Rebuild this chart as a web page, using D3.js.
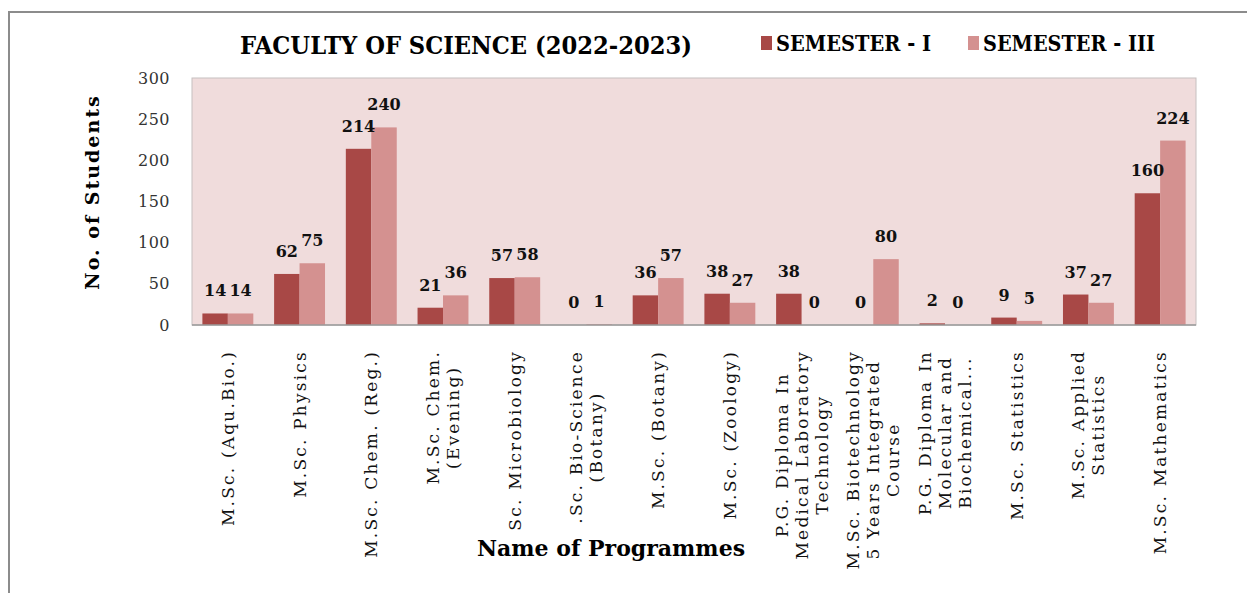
<!DOCTYPE html>
<html>
<head>
<meta charset="utf-8">
<script src="https://d3js.org/d3.v7.min.js"></script>
<style>
  body { margin: 0; background: #fff; }
  text { font-family: "DejaVu Serif", serif; }
</style>
</head>
<body>
<svg id="chart"></svg>
<script>
// programme names, one entry per line of the wrapped axis label
var categories = [
  ["M.Sc. (Aqu.Bio.)"],
  ["M.Sc. Physics"],
  ["M.Sc. Chem. (Reg.)"],
  ["M.Sc. Chem.", "(Evening)"],
  ["Sc. Microbiology"],
  [".Sc. Bio-Science", "(Botany)"],
  ["M.Sc. (Botany)"],
  ["M.Sc. (Zoology)"],
  ["P.G. Diploma In", "Medical Laboratory", "Technology"],
  ["M.Sc. Biotechnology", "5 Years Integrated", "Course"],
  ["P.G. Diploma In", "Molecular and", "Biochemical..."],
  ["M.Sc. Statistics"],
  ["M.Sc. Applied", "Statistics"],
  ["M.Sc. Mathematics"]
];
var sem1 = [14, 62, 214, 21, 57, 0, 36, 38, 38, 0, 2, 9, 37, 160];
var sem3 = [14, 75, 240, 36, 58, 1, 57, 27, 0, 80, 0, 5, 27, 224];
var seriesNames = ["SEMESTER - I", "SEMESTER - III"];
var yTicks = [0, 50, 100, 150, 200, 250, 300];

var W = 1247, H = 593;
var colors = ["#a84846", "#d49190"];
var plot = {left: 192, right: 1196, top: 78, bottom: 325};

var svg = d3.select("#chart").attr("width", W).attr("height", H);

// outer chart frame
svg.append("rect")
  .attr("x", 9).attr("y", 12)
  .attr("width", W + 20).attr("height", H + 20)
  .attr("fill", "#fff")
  .attr("stroke", "#8c8c8c").attr("stroke-width", 2);

svg.append("rect")
  .attr("x", plot.left).attr("y", plot.top)
  .attr("width", plot.right - plot.left).attr("height", plot.bottom - plot.top)
  .attr("fill", "#f0dcdc")
  .attr("stroke", "#c6c0c0").attr("stroke-width", 1);

var idx = d3.range(categories.length);
var x = d3.scaleBand().domain(idx).range([plot.left, plot.right])
  .paddingInner(0.29).paddingOuter(0.145);
var xs = d3.scaleBand().domain([0, 1]).range([0, x.bandwidth()]);
var y = d3.scaleLinear().domain([0, 300]).range([plot.bottom, plot.top]);

var rows = idx.map(function(i) { return [sem1[i], sem3[i]]; });

var groups = svg.selectAll(".grp").data(rows).enter().append("g")
  .attr("class", "grp")
  .attr("transform", function(d, i) { return "translate(" + x(i) + ",0)"; });

groups.selectAll("rect").data(function(d) { return d; }).enter().append("rect")
  .attr("x", function(d, j) { return xs(j); })
  .attr("y", function(d) { return y(d); })
  .attr("width", xs.bandwidth())
  .attr("height", function(d) { return y(0) - y(d); })
  .attr("fill", function(d, j) { return colors[j]; });

groups.selectAll("text").data(function(d) { return d; }).enter().append("text")
  .attr("x", function(d, j) { return xs(j) + xs.bandwidth() / 2; })
  .attr("y", function(d) { return y(d) - 17; })
  .attr("text-anchor", "middle")
  .style("font-size", "16px").style("font-weight", "600")
  .attr("fill", "#111")
  .text(function(d) { return d; });

// bottom axis line
svg.append("line")
  .attr("x1", plot.left).attr("x2", plot.right)
  .attr("y1", plot.bottom).attr("y2", plot.bottom)
  .attr("stroke", "#9a9a9a").attr("stroke-width", 1.5);

// y axis
var yAxis = svg.append("g")
  .attr("transform", "translate(" + plot.left + ",0)")
  .call(d3.axisLeft(y).tickValues(yTicks).tickSize(0).tickPadding(22));
yAxis.select(".domain").remove();
yAxis.selectAll("text")
  .style("font-family", "DejaVu Serif").style("font-size", "16px")
  .style("letter-spacing", "0.5px")
  .attr("fill", "#333");

// x labels, rotated, wrapped lines centred within the block
var labelTop = 350, lineH = 20;
var xl = svg.selectAll(".xl").data(categories).enter().append("g")
  .attr("class", "xl")
  .attr("transform", function(d, i) {
    return "translate(" + (x(i) + x.bandwidth() / 2) + "," + labelTop + ") rotate(-90)";
  });
xl.each(function(lines) {
  var g = d3.select(this);
  var ts = lines.map(function(s, k) {
    return g.append("text")
      .attr("y", (k - (lines.length - 1) / 2) * lineH)
      .attr("dominant-baseline", "central")
      .attr("text-anchor", "middle")
      .style("font-size", "17px").style("letter-spacing", "2.2px")
      .attr("fill", "#111")
      .text(s);
  });
  var maxW = d3.max(ts, function(t) { return t.node().getComputedTextLength(); });
  ts.forEach(function(t) { t.attr("x", -maxW / 2); });
});

// titles
svg.append("text")
  .attr("x", 466).attr("y", 54)
  .attr("text-anchor", "middle")
  .style("font-size", "24px").style("font-weight", "bold")
  .attr("textLength", 452).attr("lengthAdjust", "spacingAndGlyphs")
  .text("FACULTY OF SCIENCE (2022-2023)");

svg.append("text")
  .attr("transform", "translate(99,192) rotate(-90)")
  .attr("text-anchor", "middle")
  .style("font-size", "19px").style("font-weight", "bold").style("letter-spacing", "2px")
  .text("No. of Students");

svg.append("text")
  .attr("x", 611).attr("y", 556)
  .attr("text-anchor", "middle")
  .style("font-size", "22px").style("font-weight", "bold")
  .text("Name of Programmes");

// legend
var legX = [761, 968], legW = [155, 172];
var leg = svg.selectAll(".leg").data(seriesNames).enter().append("g")
  .attr("class", "leg")
  .attr("transform", function(d, i) { return "translate(" + legX[i] + ",36)"; });
leg.append("rect").attr("width", 11).attr("height", 14)
  .attr("fill", function(d, i) { return colors[i]; });
leg.append("text")
  .attr("x", 15).attr("y", 15)
  .style("font-size", "22px").style("font-weight", "bold")
  .attr("textLength", function(d, i) { return legW[i]; })
  .attr("lengthAdjust", "spacingAndGlyphs")
  .text(function(d) { return d; });
</script>
</body>
</html>
